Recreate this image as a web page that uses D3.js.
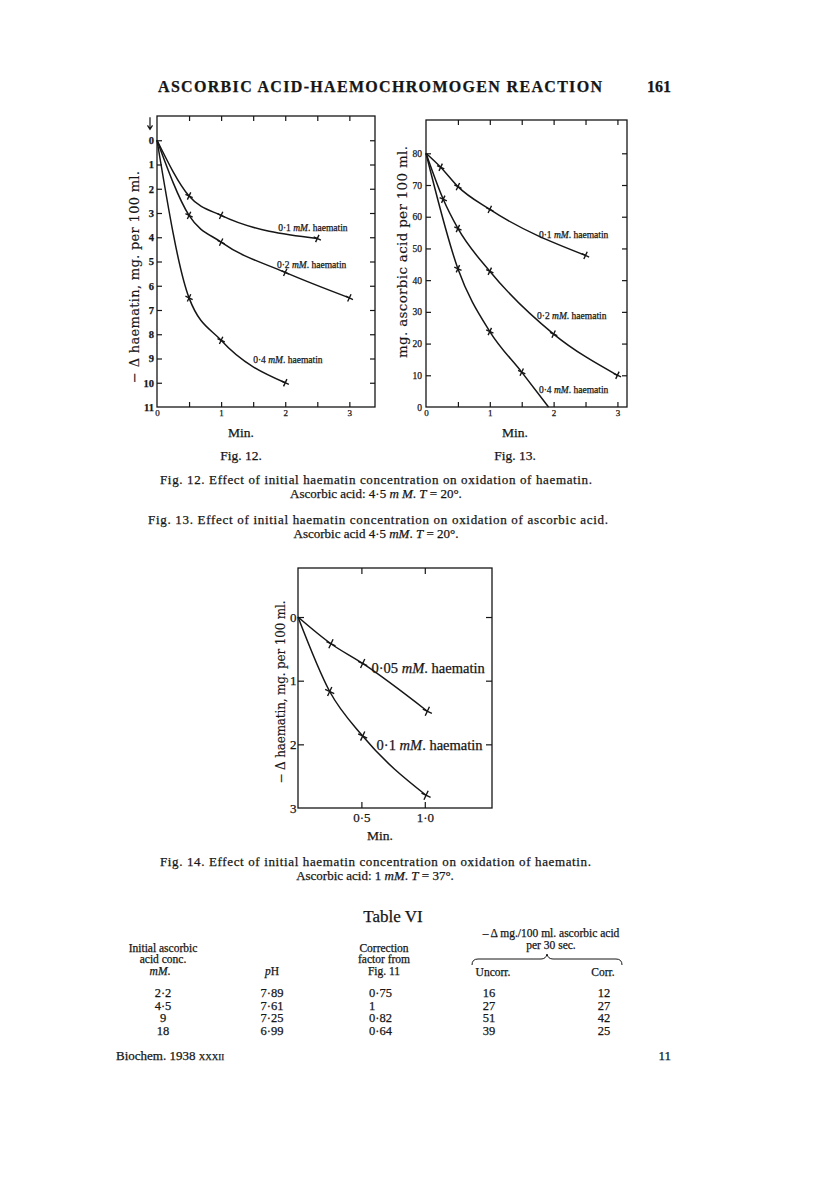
<!DOCTYPE html>
<html lang="en">
<head>
<meta charset="utf-8">
<script src="https://cdn.jsdelivr.net/npm/d3@7"></script>
<style>
    html, body {
        margin: 0;
        padding: 0;
        background: #fff;
    }

    svg {
        display: block;
    }

    text {
        font-family: "Liberation Serif", "DejaVu Serif", serif;
        fill: #161616;
        stroke: #161616;
        stroke-width: 0.25px;
    }

    text.ytitle {
        font-family: "DejaVu Serif", "Liberation Serif", serif;
        stroke-width: 0.15px;
    }

    .frame {
        fill: none;
        stroke: #161616;
        stroke-width: 1.3px;
    }

    .curve {
        fill: none;
        stroke: #161616;
        stroke-width: 1.5px;
    }

    .mark {
        fill: none;
        stroke: #161616;
        stroke-width: 1.4px;
    }
</style>
</head>
<body>
<svg id="page" width="816" height="1195"></svg>
<script>
    // ---- Fig. 12: - delta haematin (mg./100 ml.) against minutes
    var fig12Start = [0, 0];
    var fig12Haem01 = [[0.5, 2.3], [1, 3.1], [2.5, 4.05]];
    var fig12Haem02 = [[0.5, 3.1], [1, 4.2], [2, 5.45], [3, 6.5]];
    var fig12Haem04 = [[0.5, 6.5], [1, 8.25], [2, 10]];
    var fig12YLabels = [0, 1, 2, 3, 4, 5, 6, 7, 8, 9, 10, 11];
    var fig12XLabels = [0, 1, 2, 3];

    // ---- Fig. 13: ascorbic acid (mg./100 ml.) against minutes
    var fig13Start = [0, 80];
    var fig13Haem01 = [[0.23, 75.6], [0.5, 69.5], [1, 62.3], [2.5, 47.8]];
    var fig13Haem02 = [[0.27, 65.5], [0.5, 56.3], [1, 42.8], [2, 23], [3, 10]];
    var fig13Haem04 = [[0.5, 43.6], [1, 23.8], [1.5, 11]];
    var fig13Haem04End = [1.92, 0];
    var fig13YLabels = [0, 10, 20, 30, 40, 50, 60, 70, 80];
    var fig13XLabels = [0, 1, 2, 3];

    // ---- Fig. 14: - delta haematin, 37 deg.
    var fig14Start = [0, 0];
    var fig14Haem005 = [[0.26, 0.42], [0.51, 0.73], [1.02, 1.48]];
    var fig14Haem01 = [[0.25, 1.17], [0.51, 1.87], [1.01, 2.8]];
    var fig14YLabels = [0, 1, 2, 3];
    var fig14XLabels = [0.5, 1.0];

    // ---- Table VI
    var tableConc = ["2·2", "4·5", "9", "18"];
    var tablePH = ["7·89", "7·61", "7·25", "6·99"];
    var tableFactor = ["0·75", "1", "0·82", "0·64"];
    var tableUncorr = ["16", "27", "51", "39"];
    var tableCorr = ["12", "27", "42", "25"];

    var svg = d3.select("#page");
    var ink = "#161616";

    function dotFixed (v) {
        return d3.format(".1f")(v).replace(".", "·");
    }

    function addText (parent, x, y, parts, opts) {
        opts = opts || {};
        var t = parent.append("text")
            .attr("x", x)
            .attr("y", y)
            .attr("text-anchor", opts.anchor || "start")
            .style("font-size", (opts.size || 13) + "px");
        if (opts.cls) t.attr("class", opts.cls);
        if (opts.weight) t.style("font-weight", opts.weight);
        if (opts.length) t.attr("textLength", opts.length).attr("lengthAdjust", "spacing");
        if (opts.rotate) t.attr("transform", "rotate(" + opts.rotate + "," + x + "," + y + ")");
        parts.forEach(function (p) {
            if (typeof p === "string") {
                t.append("tspan").text(p);
            } else {
                var s = t.append("tspan").text(p.t);
                if (p.i) s.style("font-style", "italic");
                if (p.sc) s.style("font-variant", "small-caps");
            }
        });
        return t;
    }

    function curveLabel (conc) {
        return [conc + " ", {t: "mM", i: true}, ". haematin"];
    }

    function drawPanel (cfg) {
        var x = cfg.x, y = cfg.y;
        var left = d3.min(x.range()), right = d3.max(x.range());
        var top = d3.min(y.range()), bottom = d3.max(y.range());
        var g = svg.append("g").style("color", ink);

        g.append("rect")
            .attr("class", "frame")
            .attr("stroke-width", cfg.frameWidth)
            .attr("x", left)
            .attr("y", top)
            .attr("width", right - left)
            .attr("height", bottom - top);

        // inward ticks on all four sides
        var tickAxes = [
            [d3.axisTop(x).tickValues(cfg.xTicks), "translate(0," + top + ")"],
            [d3.axisBottom(x).tickValues(cfg.xTicks), "translate(0," + bottom + ")"],
            [d3.axisLeft(y).tickValues(cfg.yTicks), "translate(" + left + ",0)"],
            [d3.axisRight(y).tickValues(cfg.yTicks), "translate(" + right + ",0)"]
        ];
        tickAxes.forEach(function (a) {
            g.append("g")
                .attr("transform", a[1])
                .call(a[0].tickSizeInner(-cfg.tick).tickSizeOuter(0).tickFormat(""))
                .call(function (s) {
                    s.select(".domain").remove();
                    s.selectAll("line").attr("stroke-width", 1.2);
                });
        });

        // tick labels
        g.append("g")
            .attr("transform", "translate(0," + bottom + ")")
            .call(d3.axisBottom(x).tickValues(cfg.xLabels).tickSize(0)
                .tickPadding(cfg.xPad).tickFormat(cfg.xFormat))
            .call(function (s) {
                s.select(".domain").remove();
                s.selectAll("text").style("font-size", cfg.xSize + "px");
            });

        g.append("g")
            .attr("transform", "translate(" + left + ",0)")
            .call(d3.axisLeft(y).tickValues(cfg.yLabels).tickSize(0)
                .tickPadding(cfg.yPad).tickFormat(cfg.yFormat))
            .call(function (s) {
                s.select(".domain").remove();
                s.selectAll("text")
                    .style("font-size", cfg.ySize + "px")
                    .style("font-weight", cfg.yWeight || "normal");
            });

        var line = d3.line()
            .x(function (d) { return x(d[0]); })
            .y(function (d) { return y(d[1]); })
            .curve(d3.curveMonotoneX);

        cfg.series.forEach(function (s) {
            var pts = [cfg.start].concat(s.points);
            if (s.end) pts.push(s.end);
            g.append("path")
                .attr("class", "curve")
                .attr("stroke-width", cfg.lineWidth)
                .attr("d", line(pts));

            var m = cfg.mark;
            g.selectAll(null)
                .data(s.points)
                .join("path")
                .attr("class", "mark")
                .attr("transform", function (d) {
                    return "translate(" + x(d[0]) + "," + y(d[1]) + ") rotate(25)";
                })
                .attr("d", "M" + (-m) + ",0H" + m + "M0," + (-m) + "V" + m);

            addText(g, x(s.at[0]), y(s.at[1]), curveLabel(s.conc), {size: cfg.labelSize});
        });

        // rotated y title
        addText(g, cfg.yTitleX, cfg.yTitleY, cfg.yTitle,
            {size: cfg.yTitleSize, anchor: "middle", rotate: -90, length: cfg.yTitleLength, cls: "ytitle"});

        addText(g, cfg.minX, cfg.minY, ["Min."], {size: 13.5, anchor: "middle"});
        if (cfg.figName) addText(g, cfg.minX, cfg.figY, [cfg.figName], {size: 13.5, anchor: "middle"});
        return g;
    }

    // ---------------- page header
    addText(svg, 158, 92, ["ASCORBIC ACID-HAEMOCHROMOGEN REACTION"],
        {size: 16, weight: "bold", length: 444});
    addText(svg, 671, 92, ["161"], {size: 16, weight: "bold", anchor: "end"});

    // ---------------- Fig. 12
    var x12 = d3.scaleLinear().domain([0, 3.4]).range([157, 375]);
    var y12 = d3.scaleLinear().domain([-1, 11]).range([116, 407]);
    var p12 = drawPanel({
        x: x12, y: y12,
        xTicks: d3.range(0.5, 3.01, 0.5), yTicks: d3.range(0, 11),
        xLabels: fig12XLabels, yLabels: fig12YLabels,
        xFormat: d3.format("d"), yFormat: d3.format("d"),
        xPad: 3, yPad: 3, xSize: 9, ySize: 10.5, yWeight: "bold",
        tick: 5, mark: 4, lineWidth: 1.4, labelSize: 9.5, frameWidth: 1.3,
        start: fig12Start,
        series: [
            {conc: "0·1", points: fig12Haem01, at: [1.89, 3.74]},
            {conc: "0·2", points: fig12Haem02, at: [1.87, 5.26]},
            {conc: "0·4", points: fig12Haem04, at: [1.5, 9.2]}
        ],
        yTitle: ["− Δ haematin, mg. per 100 ml."], yTitleX: 139, yTitleY: 277,
        yTitleSize: 13, yTitleLength: 212,
        minX: 241, minY: 437, figName: "Fig. 12.", figY: 460
    });
    // arrow above the y axis
    p12.append("path")
        .attr("fill", "none")
        .attr("stroke", ink)
        .attr("stroke-width", 1.2)
        .attr("d", "M" + (x12(0) - 7) + "," + y12(-0.95) + "V" + y12(-0.45)
            + "M" + (x12(0) - 9.5) + "," + (y12(-0.45) - 4) + "L" + (x12(0) - 7) + "," + y12(-0.45)
            + "L" + (x12(0) - 4.5) + "," + (y12(-0.45) - 4));

    // ---------------- Fig. 13
    var x13 = d3.scaleLinear().domain([0, 3.15]).range([426, 627]);
    var y13 = d3.scaleLinear().domain([0, 90.5]).range([407, 120]);
    drawPanel({
        x: x13, y: y13,
        xTicks: d3.range(0.5, 3.01, 0.5), yTicks: d3.range(10, 81, 10),
        xLabels: fig13XLabels, yLabels: fig13YLabels,
        xFormat: d3.format("d"), yFormat: d3.format("d"),
        xPad: 3, yPad: 4, xSize: 9, ySize: 9.5,
        tick: 5, mark: 4, lineWidth: 1.4, labelSize: 9.5, frameWidth: 1.3,
        start: fig13Start,
        series: [
            {conc: "0·1", points: fig13Haem01, at: [1.77, 53.2]},
            {conc: "0·2", points: fig13Haem02, at: [1.74, 27.75]},
            {conc: "0·4", points: fig13Haem04, end: fig13Haem04End, at: [1.77, 4.5]}
        ],
        yTitle: ["mg. ascorbic acid per 100 ml."], yTitleX: 407, yTitleY: 252,
        yTitleSize: 13.5, yTitleLength: 212,
        minX: 515, minY: 437, figName: "Fig. 13.", figY: 460
    });

    // captions for Figs. 12 and 13
    addText(svg, 160, 484, ["Fig. 12.  Effect of initial haematin concentration on oxidation of haematin."],
        {size: 13, length: 432});
    addText(svg, 376, 498, ["Ascorbic acid: 4·5 ", {t: "m M", i: true}, ". ", {t: "T", i: true}, " = 20°."],
        {size: 13, anchor: "middle"});
    addText(svg, 148, 524, ["Fig. 13.  Effect of initial haematin concentration on oxidation of ascorbic acid."],
        {size: 13, length: 460});
    addText(svg, 376, 538, ["Ascorbic acid 4·5 ", {t: "mM", i: true}, ". ", {t: "T", i: true}, " = 20°."],
        {size: 13, anchor: "middle"});

    // ---------------- Fig. 14
    var x14 = d3.scaleLinear().domain([0, 1.53]).range([298, 492]);
    var y14 = d3.scaleLinear().domain([-0.77, 3]).range([568, 808]);
    drawPanel({
        x: x14, y: y14,
        xTicks: [0.5, 1.0], yTicks: [0, 1, 2],
        xLabels: fig14XLabels, yLabels: fig14YLabels,
        xFormat: dotFixed, yFormat: d3.format("d"),
        xPad: 5, yPad: 1.5, xSize: 13, ySize: 13,
        tick: 6, mark: 5, lineWidth: 1.9, labelSize: 14.5, frameWidth: 1.5,
        start: fig14Start,
        series: [
            {conc: "0·05", points: fig14Haem005, at: [0.58, 0.88]},
            {conc: "0·1", points: fig14Haem01, at: [0.62, 2.09]}
        ],
        yTitle: ["− Δ haematin, mg. per 100 ml."], yTitleX: 285, yTitleY: 692,
        yTitleSize: 12, yTitleLength: 183,
        minX: 380, minY: 840
    });

    addText(svg, 160, 866, ["Fig. 14.  Effect of initial haematin concentration on oxidation of haematin."],
        {size: 13, length: 431});
    addText(svg, 375, 880, ["Ascorbic acid: 1 ", {t: "mM", i: true}, ". ", {t: "T", i: true}, " = 37°."],
        {size: 13, anchor: "middle"});

    // ---------------- Table VI
    var tg = svg.append("g");
    addText(tg, 393, 922, ["Table VI"], {size: 17, anchor: "middle"});

    var hs = 11.5;
    addText(tg, 163, 951.5, ["Initial ascorbic"], {size: hs, anchor: "middle"});
    addText(tg, 163, 963, ["acid conc."], {size: hs, anchor: "middle"});
    addText(tg, 160, 974.5, [{t: "mM", i: true}, "."], {size: hs, anchor: "middle"});
    addText(tg, 272, 974.5, [{t: "p", i: true}, "H"], {size: hs, anchor: "middle"});
    addText(tg, 384, 951.5, ["Correction"], {size: hs, anchor: "middle"});
    addText(tg, 384, 963, ["factor from"], {size: hs, anchor: "middle"});
    addText(tg, 384, 974.5, ["Fig. 11"], {size: hs, anchor: "middle"});
    addText(tg, 551, 937, ["– Δ mg./100 ml. ascorbic acid"], {size: hs, anchor: "middle"});
    addText(tg, 551, 948.5, ["per 30 sec."], {size: hs, anchor: "middle"});
    addText(tg, 493, 976, ["Uncorr."], {size: hs, anchor: "middle"});
    addText(tg, 603, 976, ["Corr."], {size: hs, anchor: "middle"});

    // brace over the two right-hand columns
    tg.append("path")
        .attr("fill", "none")
        .attr("stroke", ink)
        .attr("stroke-width", 1)
        .attr("d", "M472,965 Q472,959 478,959 H541 Q546,959 547,954 Q548,959 553,959 H616 Q622,959 622,965");

    var rowY = d3.scalePoint().domain(d3.range(tableConc.length)).range([997, 1035]);
    var cols = [
        {vals: tableConc, x: 163, anchor: "middle"},
        {vals: tablePH, x: 272, anchor: "middle"},
        {vals: tableFactor, x: 369, anchor: "start"},
        {vals: tableUncorr, x: 489, anchor: "middle"},
        {vals: tableCorr, x: 604, anchor: "middle"}
    ];
    cols.forEach(function (c) {
        tg.selectAll(null)
            .data(c.vals)
            .join("text")
            .attr("x", c.x)
            .attr("y", function (d, i) { return rowY(i); })
            .attr("text-anchor", c.anchor)
            .style("font-size", "12.5px")
            .text(function (d) { return d; });
    });

    // ---------------- footer
    addText(svg, 116, 1060, ["Biochem. 1938 ", {t: "xxxii", sc: true}], {size: 13});
    addText(svg, 671, 1060, ["11"], {size: 13, anchor: "end"});
</script>
</body>
</html>
